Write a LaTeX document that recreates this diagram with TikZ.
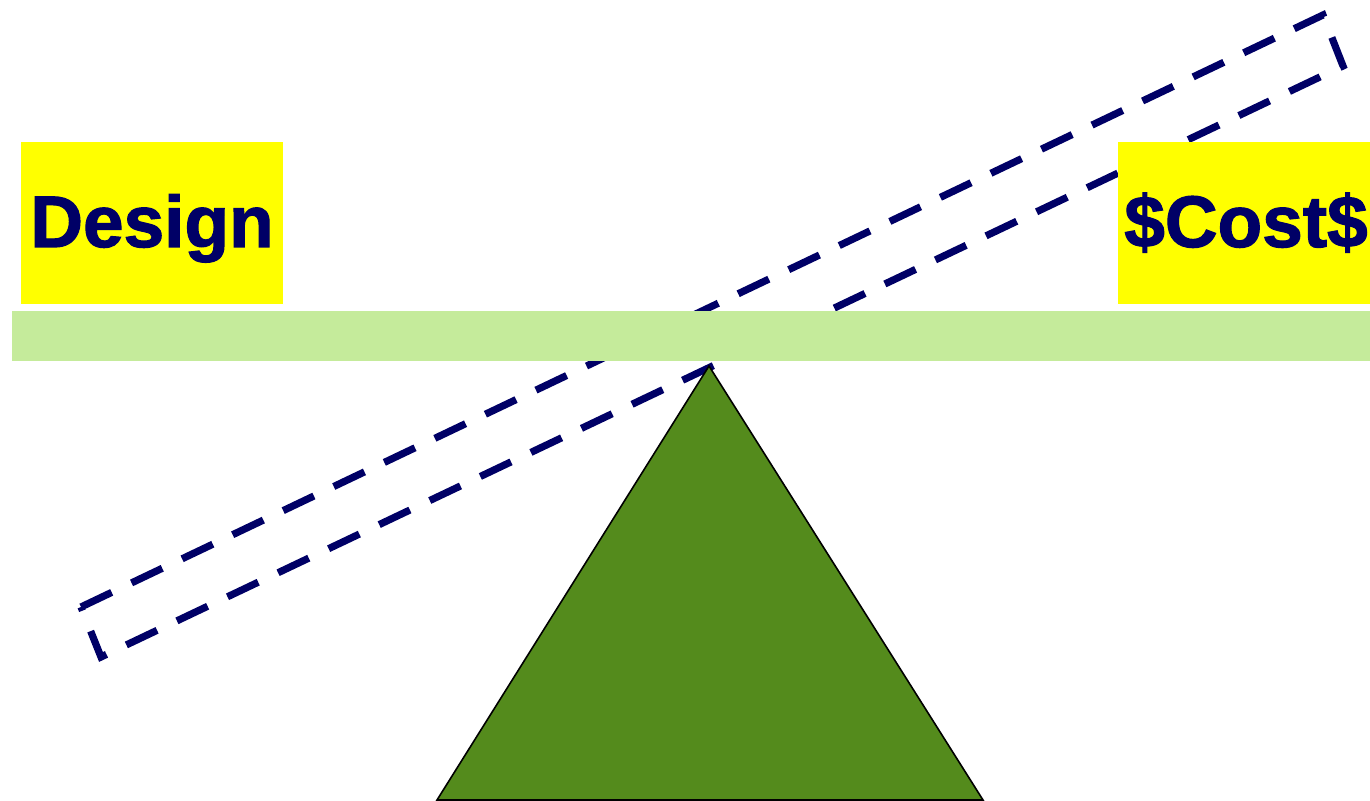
\documentclass[tikz,border=0pt]{standalone}
\usepackage{fontspec}
\setmainfont{Liberation Sans}
\newfontfamily\heavyfont{Liberation Sans}[BoldFeatures={FakeBold=1.6}]
\definecolor{navy}{RGB}{0,0,102}
\definecolor{bargreen}{RGB}{197,235,155}
\definecolor{fulcrum}{RGB}{84,139,28}
\definecolor{boxyellow}{RGB}{255,255,0}
\tikzset{
  labelbox/.style={fill=boxyellow, inner sep=0pt, minimum width=131pt, minimum height=81pt,
    text=navy, font=\heavyfont\fontsize{36.5}{40}\selectfont\bfseries, text height=26pt, text depth=2pt},
  beam/.style={draw=navy, line width=3.6pt, dash pattern=on 17pt off 11pt},
}
\begin{document}
\begin{tikzpicture}[x=0.5pt,y=-0.5pt]
\useasboundingbox (0,0) rectangle (1370,801);
% tilted dashed plank
\coordinate (A) at (81,607);
\coordinate (B) at (101,657);
\coordinate (C) at (1343,66);
\coordinate (D) at (1323,15);
\draw[beam] (A) -- (D) -- (C) -- (B) -- cycle;
% level bar
\fill[bargreen] (12,311) rectangle (1370,361);
% boxes
\node[labelbox] (design) at (152,223) {Design};
\node[labelbox, minimum width=126pt] (cost) at (1244,223) {\hspace{2pt}\$Cost\$};
% fulcrum
\draw[fill=fulcrum, line width=0.8pt, line join=miter] (709,366) -- (983,800) -- (437,800) -- cycle;
\end{tikzpicture}
\end{document}
